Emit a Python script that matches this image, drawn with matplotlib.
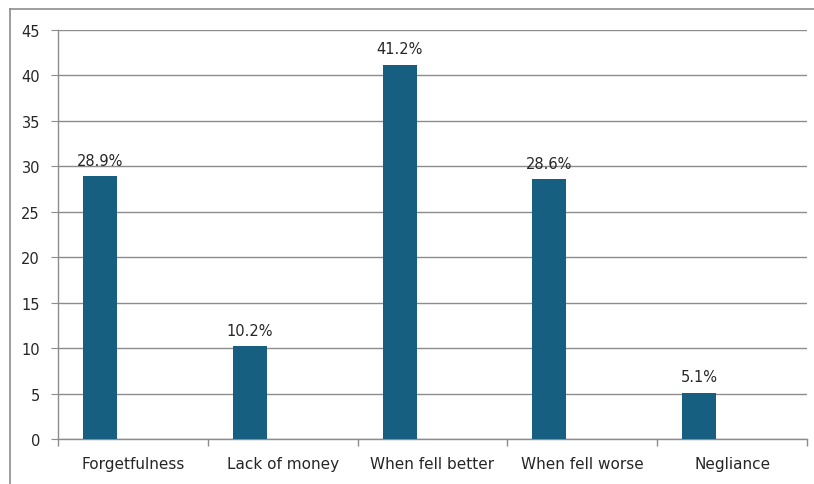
import numpy as np
import matplotlib
matplotlib.use('Agg')
from matplotlib import pyplot as plt
from matplotlib.lines import Line2D

categories = ['Forgetfulness', 'Lack of money', 'When fell better', 'When fell worse', 'Negliance']
values = [28.9, 10.2, 41.2, 28.6, 5.1]
labels = ['28.9%', '10.2%', '41.2%', '28.6%', '5.1%']
yticks = [0, 5, 10, 15, 20, 25, 30, 35, 40, 45]

bar_color = '#175f81'
line_color = '#8c8c8c'
text_color = '#262626'

fig = plt.figure(figsize=(8.14, 4.85), dpi=100)
ax = fig.add_axes([58/814, 1-440/485, (807-58)/814, (440-31)/485])

x = np.arange(len(categories))
# excel-style clustered bar with an empty second series -> bar sits left of centre
bars = ax.bar(x - 0.22, values, width=0.227, color=bar_color, zorder=3)

for b, lab in zip(bars, labels):
    ax.annotate(lab, (b.get_x() + b.get_width()/2, b.get_height()),
                xytext=(0, 6), textcoords='offset points',
                ha='center', va='bottom', fontsize=10.5, color=text_color)

ax.set_xlim(-0.5, len(categories) - 0.5)
ax.set_ylim(0, 45)
ax.set_yticks(yticks)
ax.yaxis.grid(True, color=line_color, linewidth=1)
ax.set_axisbelow(True)

ax.set_xticks(x)
ax.set_xticklabels(categories)
ax.set_xticks(np.arange(len(categories) + 1) - 0.5, minor=True)
ax.tick_params(axis='x', which='major', length=0, pad=12, labelsize=11, labelcolor=text_color)
ax.tick_params(axis='x', which='minor', length=5, color=line_color, width=1)
ax.tick_params(axis='y', length=5, color=line_color, pad=8, labelsize=10.5, labelcolor=text_color)

for s in ['top', 'right']:
    ax.spines[s].set_visible(False)
for s in ['left', 'bottom']:
    ax.spines[s].set_color(line_color)
    ax.spines[s].set_linewidth(1)

# chart border (only top and left visible, picture is cropped)
fig.add_artist(Line2D([10/814, 10/814], [0, 1-10/485], color=line_color, lw=1.2, transform=fig.transFigure))
fig.add_artist(Line2D([10/814, 1], [1-10/485, 1-10/485], color=line_color, lw=1.2, transform=fig.transFigure))

fig.savefig('out.png', dpi=100)
